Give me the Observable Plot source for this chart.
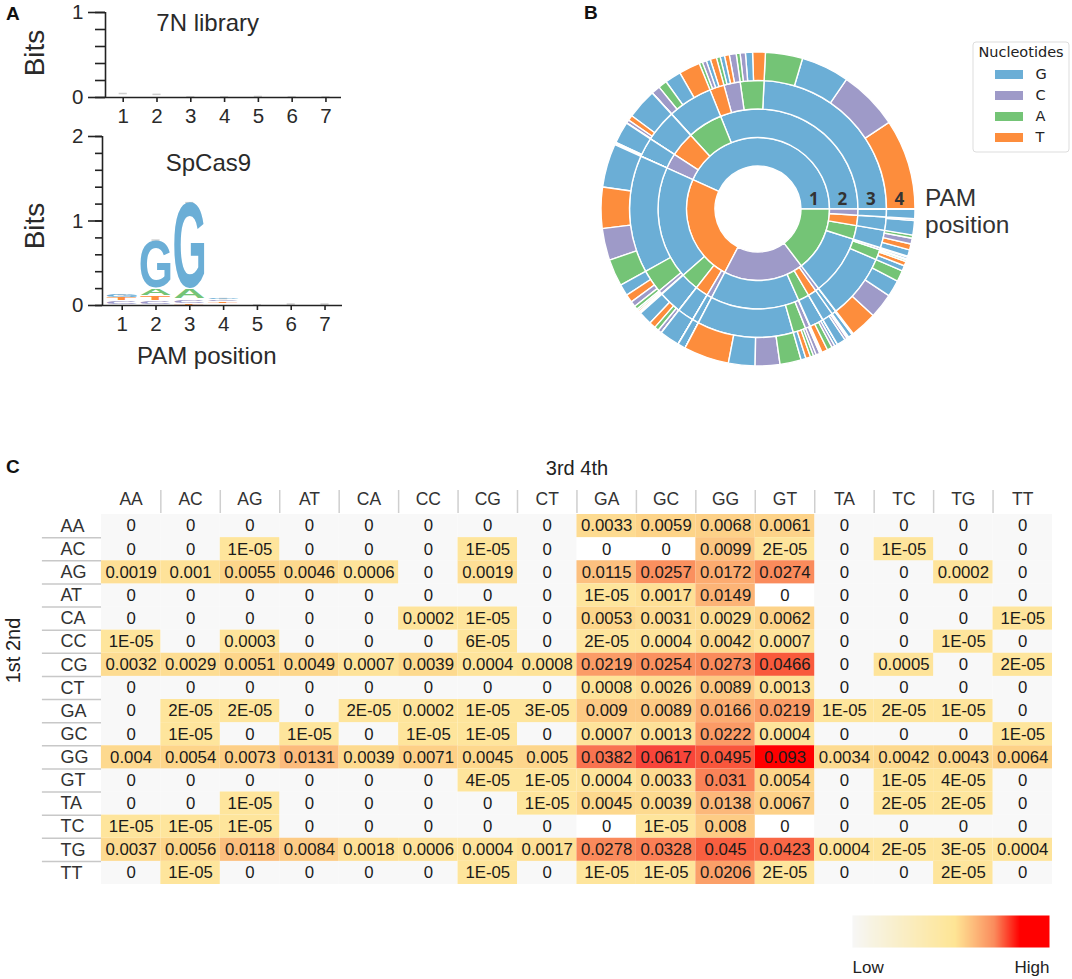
<!DOCTYPE html>
<html><head><meta charset="utf-8">
<script src="https://cdn.jsdelivr.net/npm/d3@7"></script>
<script src="https://cdn.jsdelivr.net/npm/@observablehq/plot@0.6"></script>
<style>
html,body{margin:0;padding:0;background:#fff;overflow:hidden}
#page{position:relative;width:1072px;height:979px;overflow:hidden;font-family:"Liberation Sans",Arial,sans-serif}
.tag{position:absolute;font-weight:700;font-size:19px;line-height:18px;color:#111}
.pam{position:absolute;font-size:24.5px;line-height:26.5px;color:#333}
</style></head><body><div id="page"></div>
<script>
// ---------- shared nucleotides ----------
const bases = ["G","C","A","T"];
const baseColors = ["#6baed6","#9e9ac8","#74c476","#fd8d3c"];

// ---------- panel A : sequence logos ----------
const positions = [1,2,3,4,5,6,7];
const libraryCaps = [0.05,0.04,0.01,0.01,0.015,0.01,0.01];
const cas9Caps = [0.13,0.777,1.22,0.085,0.01,0.02,0.02];
const logoPos  = [1,1,1, 2,2,2,2, 3,3,3,3, 4,4,4];
const logoBase = ["C","T","G", "C","T","A","G", "T","C","A","G", "T","C","G"];
const logoLow  = [0.01,0.055,0.09, 0.012,0.055,0.115,0.2, 0.002,0.025,0.078,0.197, 0.02,0.045,0.065];
const logoHigh = [0.035,0.08,0.12, 0.042,0.105,0.195,0.755, 0.012,0.06,0.178,1.205, 0.04,0.06,0.08];

// ---------- panel C : heat map ----------
const rowNames = ["AA","AC","AG","AT","CA","CC","CG","CT","GA","GC","GG","GT","TA","TC","TG","TT"];
const colNames = ["AA","AC","AG","AT","CA","CC","CG","CT","GA","GC","GG","GT","TA","TC","TG","TT"];
const rowAA = ["0","0","0","0","0","0","0","0","0.0033","0.0059","0.0068","0.0061","0","0","0","0"];
const rowAC = ["0","0","1E-05","0","0","0","1E-05","0","0","0","0.0099","2E-05","0","1E-05","0","0"];
const rowAG = ["0.0019","0.001","0.0055","0.0046","0.0006","0","0.0019","0","0.0115","0.0257","0.0172","0.0274","0","0","0.0002","0"];
const rowAT = ["0","0","0","0","0","0","0","0","1E-05","0.0017","0.0149","0","0","0","0","0"];
const rowCA = ["0","0","0","0","0","0.0002","1E-05","0","0.0053","0.0031","0.0029","0.0062","0","0","0","1E-05"];
const rowCC = ["1E-05","0","0.0003","0","0","0","6E-05","0","2E-05","0.0004","0.0042","0.0007","0","0","1E-05","0"];
const rowCG = ["0.0032","0.0029","0.0051","0.0049","0.0007","0.0039","0.0004","0.0008","0.0219","0.0254","0.0273","0.0466","0","0.0005","0","2E-05"];
const rowCT = ["0","0","0","0","0","0","0","0","0.0008","0.0026","0.0089","0.0013","0","0","0","0"];
const rowGA = ["0","2E-05","2E-05","0","2E-05","0.0002","1E-05","3E-05","0.009","0.0089","0.0166","0.0219","1E-05","2E-05","1E-05","0"];
const rowGC = ["0","1E-05","0","1E-05","0","1E-05","1E-05","0","0.0007","0.0013","0.0222","0.0004","0","0","0","1E-05"];
const rowGG = ["0.004","0.0054","0.0073","0.0131","0.0039","0.0071","0.0045","0.005","0.0382","0.0617","0.0495","0.093","0.0034","0.0042","0.0043","0.0064"];
const rowGT = ["0","0","0","0","0","0","4E-05","1E-05","0.0004","0.0033","0.031","0.0054","0","1E-05","4E-05","0"];
const rowTA = ["0","0","1E-05","0","0","0","0","1E-05","0.0045","0.0039","0.0138","0.0067","0","2E-05","2E-05","0"];
const rowTC = ["1E-05","1E-05","1E-05","0","0","0","0","0","0","1E-05","0.008","0","0","0","0","0"];
const rowTG = ["0.0037","0.0056","0.0118","0.0084","0.0018","0.0006","0.0004","0.0017","0.0278","0.0328","0.045","0.0423","0.0004","2E-05","3E-05","0.0004"];
const rowTT = ["0","1E-05","0","0","0","0","1E-05","0","1E-05","1E-05","0.0206","2E-05","0","0","2E-05","0"];
const tableRows = [rowAA,rowAC,rowAG,rowAT,rowCA,rowCC,rowCG,rowCT,rowGA,rowGC,rowGG,rowGT,rowTA,rowTC,rowTG,rowTT];
const heatDomain = [0.00001,0.0055,0.0131,0.0172,0.0274,0.0382,0.0466,0.0617,0.093];
const heatRange  = ["#fee59c","#fdd58a","#fcbb7c","#fcab70","#fa8b5c","#f97350","#f95a3c","#f8453a","#ff0000"];
const rampDomain = [0,0.1,0.52,0.62,0.72,0.85,1];
const rampRange  = ["#f7f7f7","#f7f3e2","#fee595","#fdb97a","#fa8b5c","#ff0000","#ff0000"];

// ---------- helpers ----------
const page = document.getElementById("page");
const placeAt = (svg,l,t) => {
  svg.style.position="absolute"; svg.style.left=l+"px"; svg.style.top=t+"px";
  svg.style.background="transparent"; svg.style.maxWidth="none"; svg.style.overflow="visible";
  page.appendChild(svg);
};
const html = (cls,l,t,txt) => { const d=document.createElement("div"); d.className=cls; d.style.left=l+"px"; d.style.top=t+"px"; d.innerHTML=txt; page.appendChild(d); };

// stretched logo letters, positioned from Plot's x and y scales
const meas = document.createElement("canvas").getContext("2d");
function letterMark(data, boxWidth) {
  return Plot.text(data, {
    x:"pos", y:"low", text:"base", fill:"base",
    render(I, scales, values) {
      meas.font = 'bold 100px "Liberation Sans"';
      const g = d3.create("svg:g");
      for (const i of I) {
        const d = data[i];
        const m = meas.measureText(d.base);
        const L = m.actualBoundingBoxLeft, R = m.actualBoundingBoxRight, A = m.actualBoundingBoxAscent, D = m.actualBoundingBoxDescent;
        const xc = scales.x(d.pos), y0 = scales.y(d.low), y1 = scales.y(d.high);
        const sx = boxWidth/(L+R), sy = Math.max(0.001,(y0-y1))/(A+D);
        g.append("text").text(d.base)
          .attr("font-family","Liberation Sans").attr("font-weight",700).attr("font-size",100)
          .attr("text-anchor","start")
          .attr("fill",values.fill[i])
          .attr("transform",`translate(${xc-boxWidth/2},${y0}) scale(${sx},${sy}) translate(${L},${-D})`);
      }
      return g.node();
    }
  });
}
const capMark = (caps) => Plot.rect(positions.map((p,i)=>({p,c:caps[i]})), {
  x1:d=>d.p-0.12, x2:d=>d.p+0.12, y1:d=>d.c-0.018, y2:d=>d.c, fill:"#cfcfcf"
});
const axisStyle = {stroke:"#222",strokeWidth:1.6,strokeOpacity:1};
const tickFont = {fontSize:20.5,fill:"#2a2a2a",fontFamily:"Liberation Sans"};

// Panel A, top
placeAt(Plot.plot({
  width:350,height:135,marginLeft:105,marginRight:9,marginTop:12,marginBottom:38,
  x:{domain:[0.476,7.46],axis:null},
  y:{domain:[0,1],axis:null},
  color:{domain:bases,range:baseColors},
  marks:[
    capMark(libraryCaps),
    Plot.axisY({ticks:[0,0.2,0.4,0.6,0.8,1],label:null,tickSize:10,tickFormat:()=>"",...axisStyle}),
    Plot.axisY({ticks:[0,1],label:null,tickSize:17,tickPadding:5,tickFormat:d3.format("d"),...axisStyle,...tickFont}),
    Plot.axisX({ticks:positions,label:null,tickSize:5,tickPadding:6,tickFormat:d3.format("d"),...axisStyle,...tickFont}),
    Plot.ruleX([0.476],{...axisStyle}),
    Plot.ruleY([0],{...axisStyle}),
    Plot.text(["Bits"],{frameAnchor:"left",textAnchor:"middle",rotate:-90,dx:-70,dy:-2,fontSize:28,fill:"#2a2a2a"}),
    Plot.text(["7N library"],{x:3.5,y:0.87,fontSize:24,fill:"#2a2a2a"})
  ],
  style:"font-family:'Liberation Sans'"
}),0,0);

// Panel A, bottom
const logoData = logoPos.map((pos,i)=>({pos,base:logoBase[i],low:logoLow[i],high:logoHigh[i]}));
placeAt(Plot.plot({
  width:350,height:375,marginLeft:102,marginRight:8,marginTop:136,marginBottom:70,
  x:{domain:[0.417,7.517],axis:null},
  y:{domain:[0,2],axis:null},
  color:{domain:bases,range:baseColors},
  marks:[
    capMark(cas9Caps),
    letterMark(logoData,30),
    Plot.axisY({ticks:d3.range(0,11).map(i=>i/5),label:null,tickSize:7,tickFormat:()=>"",...axisStyle}),
    Plot.axisY({ticks:[0,1,2],label:null,tickSize:14,tickPadding:5,tickFormat:d3.format("d"),...axisStyle,...tickFont}),
    Plot.axisX({ticks:positions,label:null,tickSize:5,tickPadding:6,tickFormat:d3.format("d"),...axisStyle,...tickFont}),
    Plot.ruleX([0.417],{...axisStyle}),
    Plot.ruleY([0],{...axisStyle}),
    Plot.text(["Bits"],{frameAnchor:"left",textAnchor:"middle",rotate:-90,dx:-67,dy:5,fontSize:28,fill:"#2a2a2a"}),
    Plot.text(["SpCas9"],{x:3.55,y:1.68,fontSize:24,fill:"#2a2a2a"}),
    Plot.text(["PAM position"],{x:3.5,y:-0.6,fontSize:24,fill:"#2a2a2a"})
  ],
  style:"font-family:'Liberation Sans'"
}),0,0);

// Panel B: sunburst, computed from the heat-map table
const records = [];
rowNames.forEach((r,i)=>colNames.forEach((c,j)=>{ const v=+tableRows[i][j]; if(v>0) records.push({key:r+c,value:v}); }));
const tree = d3.rollup(records,v=>v[0].value,d=>d.key[0],d=>d.key[1],d=>d.key[2],d=>d.key[3]);
const root = d3.hierarchy(tree,([,v])=>v instanceof Map?v:null)
  .sum(d=>typeof d[1]==="number"?d[1]:0)
  .sort((a,b)=>b.value-a.value);
d3.partition().size([1,5])(root);
const sectors = root.descendants().filter(n=>n.depth>0).map(n=>({start:n.x0,end:n.x1,inner:n.depth-1,outer:n.depth,base:n.data[0]}));
const ringLabels = [{r:0.5,t:"1"},{r:1.5,t:"2"},{r:2.5,t:"3"},{r:3.5,t:"4"}];
const sbSize = 340, sbC = sbSize/2;
placeAt(Plot.plot({
  width:sbSize,height:sbSize,margin:0,
  x:{domain:[0,1],range:[0,2*Math.PI],axis:null},
  y:{domain:[0,4],range:[43,157],axis:null},
  color:{domain:bases,range:baseColors},
  marks:[
    Plot.rect(sectors,{
      x1:"start",x2:"end",y1:"inner",y2:"outer",fill:"base",
      render(I,scales,v){
        const arc=d3.arc();
        const g=d3.create("svg:g").attr("transform",`translate(${sbC},${sbC})`);
        for(const i of I){
          g.append("path").attr("fill",v.fill[i]).attr("stroke","#fff").attr("stroke-width",1.4).attr("stroke-linejoin","bevel")
           .attr("d",arc({innerRadius:v.y1[i],outerRadius:v.y2[i],startAngle:Math.PI/2-v.x1[i],endAngle:Math.PI/2-v.x2[i]}));
        }
        return g.node();
      }
    }),
    Plot.text(ringLabels,{
      x:()=>0,y:"r",text:"t",fontSize:17,fontWeight:700,fill:"#333",dy:-10,dx:-2,
      render(I,s,v,d,c,next){
        return next(I,s,{...v,x:v.y.map(r=>sbC+r),y:v.y.map(()=>sbC)},d,c);
      }
    })
  ]
}),758-sbC,209-sbC);

html("pam",925,185,"PAM<br>position");

// Panel B legend
placeAt(Plot.plot({
  width:97,height:111,margin:0,
  x:{domain:[0,1],axis:null},
  y:{type:"point",domain:bases,range:[33,96],padding:0,axis:null},
  color:{domain:bases,range:baseColors},
  marks:[
    Plot.frame({stroke:"#dddddd",rx:3,inset:0.5}),
    Plot.ruleY(bases,{y:d=>d,stroke:d=>d,strokeWidth:9,strokeOpacity:1,insetLeft:23,insetRight:46}),
    Plot.text(bases,{y:d=>d,text:d=>d,frameAnchor:"left",dx:63,textAnchor:"start",fontSize:14.5,fill:"#222",fontFamily:"DejaVu Sans"}),
    Plot.text(["Nucleotides"],{frameAnchor:"top",dy:5,fontSize:14.5,fill:"#222",fontFamily:"DejaVu Sans"})
  ]
}),971.5,40.5);

// Panel C
const cells = [];
rowNames.forEach((r,i)=>colNames.forEach((c,j)=>cells.push({row:r,col:c,label:tableRows[i][j],value:+tableRows[i][j]})));
const isZero = d=>d.value===0;
const inGColumn = d=>d.col[0]==="G";
const cellH = 23.125, cellW = 59.44;
placeAt(Plot.plot({
  width:1072,height:430,marginLeft:100.9,marginRight:20,marginTop:54,marginBottom:6,
  x:{domain:colNames,padding:0,round:false,axis:null},
  y:{domain:rowNames,padding:0,round:false,axis:null},
  color:{type:"linear",domain:heatDomain,range:heatRange,interpolate:"rgb"},
  marks:[
    Plot.cell(cells.filter(d=>isZero(d)&&!inGColumn(d)),{x:"col",y:"row",fill:"#f8f8f8",inset:0}),
    Plot.cell(cells.filter(d=>!isZero(d)),{x:"col",y:"row",fill:"value",inset:0}),
    Plot.text(cells,{x:"col",y:"row",text:"label",fontSize:16.8,fill:"#1a1a1a"}),
    Plot.ruleX(colNames.slice(0,-1),{x:d=>d,dx:cellW/2,insetTop:-24,insetBottom:371,stroke:"#cfcfcf",strokeWidth:1.5}),
    Plot.ruleY(rowNames.slice(0,-1),{y:d=>d,dy:cellH/2,insetLeft:-59,insetRight:951,stroke:"#c8c8c8",strokeWidth:1.5}),
    Plot.text(colNames,{x:d=>d,frameAnchor:"top",dy:-22,fontSize:17.5,fill:"#333"}),
    Plot.text(rowNames,{y:d=>d,frameAnchor:"left",textAnchor:"start",dx:-41,fontSize:18,fill:"#333"}),
    Plot.text(["3rd 4th"],{frameAnchor:"top",dy:-54,fontSize:20,fill:"#222"}),
    Plot.text(["1st 2nd"],{frameAnchor:"left",textAnchor:"middle",rotate:-90,dx:-88,dy:-49,fontSize:20,fill:"#222"})
  ],
  style:"font-family:'Liberation Sans'"
}),0,460);

// Panel C colour key
placeAt(Plot.plot({
  width:197,height:64,margin:0,marginBottom:32,
  x:{domain:[0,1],axis:null},
  y:{domain:[0,1],axis:null},
  color:{type:"linear",domain:rampDomain,range:rampRange,interpolate:"rgb"},
  marks:[
    Plot.raster({x1:0,x2:1,y1:0,y2:1,fill:(x,y)=>x,pixelSize:1}),
    Plot.text(["Low"],{frameAnchor:"bottom-left",dy:25,fontSize:17,fill:"#222"}),
    Plot.text(["High"],{frameAnchor:"bottom-right",dy:25,fontSize:17,fill:"#222"})
  ],
  style:"font-family:'Liberation Sans';overflow:visible"
}),852,915);

html("tag",6,5,"A");
html("tag",584,4,"B");
html("tag",6,458,"C");
</script></body></html>
